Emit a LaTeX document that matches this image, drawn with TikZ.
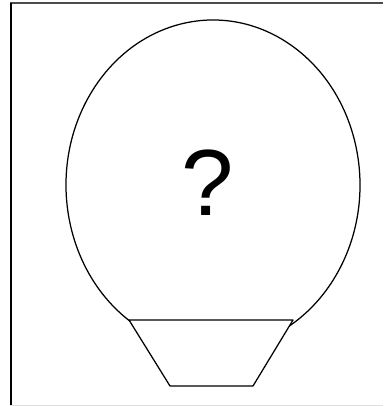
\documentclass[tikz,border=0pt]{standalone}
\usepackage{fontspec}
\setmainfont{Liberation Sans}
\tikzset{
    outline/.style={draw=black, line width=1.25pt, line join=round},
    basket/.style={outline, fill=white},
    glyph/.style={font=\fontsize{94}{94}\selectfont, inner sep=0pt, anchor=base}
}
\begin{document}
\begin{tikzpicture}[x=1pt, y=-1pt]
    \useasboundingbox (0,0) rectangle (383,406);
    % frame of the cut-out
    \draw[black!70, line width=1.3pt] (10,3) -- (383,3);
    \draw[black, line width=2pt] (10.8,3) -- (10.8,406);
    \draw[black!12, line width=1pt] (10,405) -- (383,405);

    % envelope
    \draw[outline] (213,185) ++(123:147 and 165)
        arc[start angle=123, end angle=421, x radius=147, y radius=165];

    % gondola
    \draw[basket] (129,320) -- (293,320) -- (253,386) -- (170,386) -- cycle;

    \node (query) [glyph] at (208,215) {?};
\end{tikzpicture}
\end{document}
